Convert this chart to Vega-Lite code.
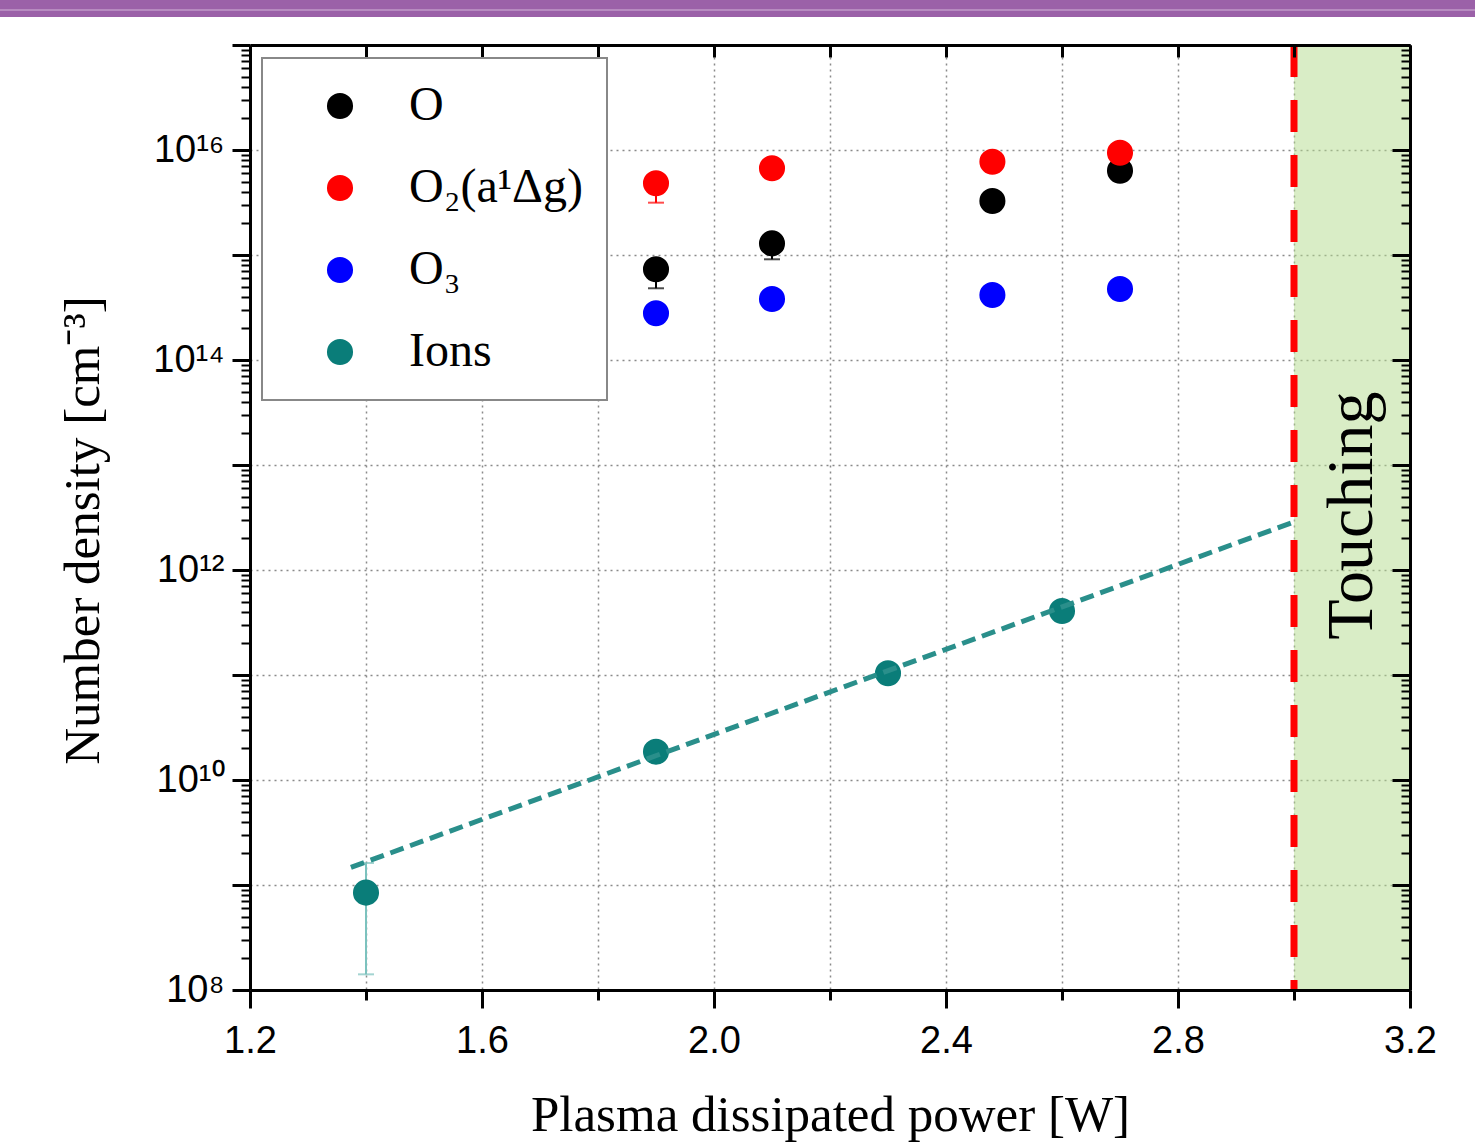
{
  "$schema": "https://vega.github.io/schema/vega-lite/v6.json",
  "width": 1160,
  "height": 945,
  "autosize": {"type": "none"},
  "padding": {"left": 250, "top": 45, "right": 65, "bottom": 152},
  "background": "white",
  "config": {
    "view": {"stroke": null},
    "legend": {"strokeWidth": 2},
    "axis": {
      "labelFont": "Liberation Sans",
      "labelFontSize": 38,
      "labelColor": "black",
      "titleFont": "Liberation Serif",
      "titleFontSize": 51,
      "titleFontWeight": "normal",
      "titleColor": "black",
      "tickColor": "black",
      "domainColor": "black",
      "domainWidth": 3,
      "gridColor": "#8a8a8a",
      "gridDash": [2, 4],
      "gridWidth": 1.5,
      "labelOverlap": false,
      "labelFlush": false
    }
  },
  "datasets": {
    "points": [
      {"series": "O", "power": 1.9, "density": 7.31e14},
      {"series": "O", "power": 2.1, "density": 1.29e15},
      {"series": "O", "power": 2.48, "density": 3.27e15},
      {"series": "O", "power": 2.7, "density": 6.35e15},
      {"series": "O₂(a¹Δg)", "power": 1.9, "density": 4.82e15},
      {"series": "O₂(a¹Δg)", "power": 2.1, "density": 6.70e15},
      {"series": "O₂(a¹Δg)", "power": 2.48, "density": 7.73e15},
      {"series": "O₂(a¹Δg)", "power": 2.7, "density": 9.42e15},
      {"series": "O₃", "power": 1.9, "density": 2.79e14},
      {"series": "O₃", "power": 2.1, "density": 3.81e14},
      {"series": "O₃", "power": 2.48, "density": 4.16e14},
      {"series": "O₃", "power": 2.7, "density": 4.74e14},
      {"series": "Ions", "power": 1.4, "density": 8.46e8},
      {"series": "Ions", "power": 1.9, "density": 1.86e10},
      {"series": "Ions", "power": 2.3, "density": 1.04e11},
      {"series": "Ions", "power": 2.6, "density": 4.07e11}
    ],
    "errs": [
      {"series": "O", "power": 1.9, "lo": 4.82e14, "hi": 7.31e14},
      {"series": "O", "power": 2.1, "lo": 9.1e14, "hi": 1.29e15},
      {"series": "O₂(a¹Δg)", "power": 1.9, "lo": 3.15e15, "hi": 4.82e15},
      {"series": "Ions", "power": 1.4, "lo": 1.41e8, "hi": 1.62e9}
    ],
    "fit": [
      {"power": 1.374, "density": 1.47e9},
      {"power": 3.0, "density": 2.87e12}
    ],
    "region": [
      {"label": "Touching", "from": 3.0, "to": 3.2, "bottom": 1e8, "top": 1e17, "mid": 3.1, "labelDensity": 3.3e12}
    ],
    "band": [
      {"left": 0.6, "right": 3.5, "low": 1.85e17, "high": 4e17, "line": 2.15e17}
    ]
  },
  "resolve": {
    "axis": {"x": "independent", "y": "independent"},
    "scale": {"color": "independent"},
    "legend": {"color": "independent"}
  },
  "layer": [
    {
      "data": {"name": "region"},
      "mark": {"type": "rect", "color": "#b3db8d", "opacity": 0.5},
      "encoding": {
        "x": {
          "field": "from", "type": "quantitative",
          "scale": {"domain": [1.2, 3.2], "nice": false, "zero": false},
          "axis": {
            "orient": "bottom",
            "values": [1.2, 1.6, 2.0, 2.4, 2.8, 3.2],
            "format": ".1f",
            "tickSize": 18, "tickWidth": 3,
            "labelPadding": 14,
            "domain": true,
            "grid": false,
            "title": "Plasma dissipated power [W]",
            "titleY": 140,
            "titleBaseline": "alphabetic",
            "zindex": 1
          }
        },
        "x2": {"field": "to"},
        "y": {
          "field": "bottom", "type": "quantitative",
          "scale": {"type": "log", "domain": [1e8, 1e17], "nice": false},
          "axis": {
            "orient": "left",
            "values": [1e8, 1e9, 1e10, 1e11, 1e12, 1e13, 1e14, 1e15, 1e16, 1e17],
            "labelExpr": "round(log(datum.value)/LN10)==8?'10⁸':round(log(datum.value)/LN10)==10?'10¹⁰':round(log(datum.value)/LN10)==12?'10¹²':round(log(datum.value)/LN10)==14?'10¹⁴':round(log(datum.value)/LN10)==16?'10¹⁶':''",
            "tickSize": 18, "tickWidth": 3,
            "labelPadding": 8,
            "domain": true,
            "grid": false,
            "title": "Number density [cm⁻³]",
            "titleX": -152,
            "titleY": 485,
            "titleBaseline": "alphabetic",
            "zindex": 1
          }
        },
        "y2": {"field": "top"}
      }
    },
    {
      "data": {"name": "region"},
      "mark": {"type": "rule", "color": "#ff0000", "strokeWidth": 7, "strokeDash": [32, 23]},
      "encoding": {
        "x": {"field": "from", "type": "quantitative", "axis": null},
        "y": {"field": "top", "type": "quantitative", "axis": null},
        "y2": {"field": "bottom"}
      }
    },
    {
      "data": {"name": "errs"},
      "mark": {"type": "rule", "strokeWidth": 2},
      "encoding": {
        "x": {
          "field": "power", "type": "quantitative",
          "axis": {
            "orient": "bottom",
            "values": [1.4, 1.6, 1.8, 2.0, 2.2, 2.4, 2.6, 2.8, 3.0],
            "grid": true, "ticks": false, "labels": false, "domain": false, "title": null
          }
        },
        "y": {
          "field": "lo", "type": "quantitative",
          "axis": {
            "orient": "left",
            "values": [1e9, 1e10, 1e11, 1e12, 1e13, 1e14, 1e15, 1e16],
            "grid": true, "ticks": false, "labels": false, "domain": false, "title": null
          }
        },
        "y2": {"field": "hi"},
        "color": {
          "field": "series", "type": "nominal",
          "scale": {"domain": ["O", "O₂(a¹Δg)", "Ions"], "range": ["#000000", "#ff0000", "#7cc2be"]},
          "legend": null
        }
      }
    },
    {
      "data": {"name": "errs"},
      "transform": [{"fold": ["lo", "hi"], "as": ["end", "val"]}],
      "mark": {"type": "tick", "orient": "horizontal", "size": 16, "thickness": 2},
      "encoding": {
        "x": {"field": "power", "type": "quantitative", "axis": null},
        "y": {"field": "val", "type": "quantitative", "axis": null},
        "color": {
          "field": "series", "type": "nominal",
          "scale": {"domain": ["O", "O₂(a¹Δg)", "Ions"], "range": ["#000000", "#ff0000", "#7cc2be"]},
          "legend": null
        }
      }
    },
    {
      "data": {"name": "points"},
      "mark": {"type": "point", "shape": "circle", "filled": true, "opacity": 1, "size": 680},
      "encoding": {
        "x": {
          "field": "power", "type": "quantitative",
          "axis": {
            "orient": "top",
            "values": [1.2, 1.4, 1.6, 1.8, 2.0, 2.2, 2.4, 2.6, 2.8, 3.0, 3.2],
            "tickSize": -12, "tickWidth": 3,
            "labels": false, "domain": true, "grid": false, "title": null,
            "zindex": 1
          }
        },
        "y": {
          "field": "density", "type": "quantitative",
          "axis": {
            "orient": "right",
            "values": [1e8, 1e9, 1e10, 1e11, 1e12, 1e13, 1e14, 1e15, 1e16, 1e17],
            "tickSize": -18, "tickWidth": 3,
            "labels": false, "domain": true, "grid": false, "title": null,
            "zindex": 1
          }
        },
        "color": {
          "field": "series", "type": "nominal",
          "scale": {
            "domain": ["O", "O₂(a¹Δg)", "O₃", "Ions"],
            "range": ["#000000", "#ff0000", "#0000ff", "#0a7d79"]
          },
          "legend": {
            "orient": "none",
            "legendX": 12,
            "legendY": 13,
            "title": null,
            "symbolType": "circle",
            "symbolSize": 680,
            "symbolStrokeWidth": 0,
            "labelFont": "Liberation Serif",
            "labelFontSize": 48,
            "labelColor": "black",
            "labelLimit": 600,
            "padding": 24,
            "symbolOffset": 30,
            "labelOffset": 45,
            "rowPadding": 34,
            "strokeColor": "#888888",
            "fillColor": "white",
            "cornerRadius": 0,
            "zindex": 2
          }
        }
      }
    },
    {
      "data": {"name": "fit"},
      "mark": {"type": "line", "color": "#2a8f8b", "strokeWidth": 5, "strokeDash": [14, 7]},
      "encoding": {
        "x": {
          "field": "power", "type": "quantitative",
          "axis": {
            "orient": "bottom",
            "values": [1.4, 1.8, 2.2, 2.6, 3.0],
            "tickSize": 10, "tickWidth": 3,
            "labels": false, "domain": false, "grid": false, "title": null,
            "zindex": 1
          }
        },
        "y": {
          "field": "density", "type": "quantitative",
          "axis": {
            "orient": "left",
            "values": [2e8,3e8,4e8,5e8,6e8,7e8,8e8,9e8,2e9,3e9,4e9,5e9,6e9,7e9,8e9,9e9,2e10,3e10,4e10,5e10,6e10,7e10,8e10,9e10,2e11,3e11,4e11,5e11,6e11,7e11,8e11,9e11,2e12,3e12,4e12,5e12,6e12,7e12,8e12,9e12,2e13,3e13,4e13,5e13,6e13,7e13,8e13,9e13,2e14,3e14,4e14,5e14,6e14,7e14,8e14,9e14,2e15,3e15,4e15,5e15,6e15,7e15,8e15,9e15,2e16,3e16,4e16,5e16,6e16,7e16,8e16,9e16],
            "tickSize": 9, "tickWidth": 2,
            "labels": false, "domain": false, "grid": false, "title": null,
            "zindex": 1
          }
        }
      }
    },
    {
      "data": {"name": "region"},
      "mark": {"type": "text", "angle": 270, "font": "Liberation Serif", "fontSize": 66, "align": "center", "baseline": "middle", "color": "black"},
      "encoding": {
        "text": {"field": "label", "type": "nominal"},
        "x": {"field": "mid", "type": "quantitative", "axis": null},
        "y": {
          "field": "labelDensity", "type": "quantitative",
          "axis": {
            "orient": "right",
            "values": [2e8,3e8,4e8,5e8,6e8,7e8,8e8,9e8,2e9,3e9,4e9,5e9,6e9,7e9,8e9,9e9,2e10,3e10,4e10,5e10,6e10,7e10,8e10,9e10,2e11,3e11,4e11,5e11,6e11,7e11,8e11,9e11,2e12,3e12,4e12,5e12,6e12,7e12,8e12,9e12,2e13,3e13,4e13,5e13,6e13,7e13,8e13,9e13,2e14,3e14,4e14,5e14,6e14,7e14,8e14,9e14,2e15,3e15,4e15,5e15,6e15,7e15,8e15,9e15,2e16,3e16,4e16,5e16,6e16,7e16,8e16,9e16],
            "tickSize": -9, "tickWidth": 2,
            "labels": false, "domain": false, "grid": false, "title": null,
            "zindex": 1
          }
        }
      }
    },
    {
      "data": {"name": "band"},
      "mark": {"type": "rect", "color": "#9b61a8"},
      "encoding": {
        "x": {"field": "left", "type": "quantitative", "axis": null},
        "x2": {"field": "right"},
        "y": {"field": "low", "type": "quantitative", "axis": null},
        "y2": {"field": "high"}
      }
    },
    {
      "data": {"name": "band"},
      "mark": {"type": "rule", "color": "#c09ac8", "strokeWidth": 1.5},
      "encoding": {
        "x": {"field": "left", "type": "quantitative", "axis": null},
        "x2": {"field": "right"},
        "y": {"field": "line", "type": "quantitative", "axis": null}
      }
    }
  ]
}
